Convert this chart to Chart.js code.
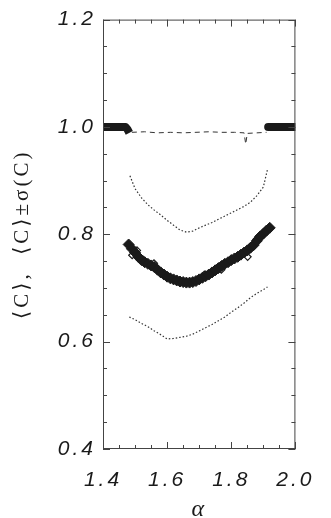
<!DOCTYPE html>
<html>
<head>
<meta charset="utf-8">
<script src="https://cdn.jsdelivr.net/npm/chart.js@4"></script>
<style>
  html, body { margin: 0; padding: 0; background: #fff; }
  #wrap { width: 331px; height: 518px; position: relative; }
</style>
</head>
<body>
<div id="wrap"><canvas id="chart"></canvas></div>
<script>
// mean <C> (diamonds) on the dip
const aMean = [1.48, 1.49, 1.50, 1.51, 1.52, 1.53, 1.54, 1.55, 1.56, 1.57, 1.58, 1.59, 1.60, 1.61, 1.62,
  1.63, 1.64, 1.65, 1.66, 1.67, 1.68, 1.69, 1.70, 1.71, 1.72, 1.73, 1.74, 1.75, 1.76, 1.77,
  1.78, 1.79, 1.80, 1.81, 1.82, 1.83, 1.84, 1.85, 1.86, 1.87, 1.88, 1.89, 1.90, 1.91, 1.92];
const cMean = [0.781, 0.773, 0.766, 0.758, 0.752, 0.748, 0.745, 0.742, 0.739, 0.734, 0.729, 0.725, 0.721, 0.718, 0.716,
  0.714, 0.712, 0.711, 0.710, 0.710, 0.711, 0.713, 0.716, 0.719, 0.722, 0.725, 0.729, 0.733, 0.737, 0.741,
  0.745, 0.748, 0.752, 0.755, 0.758, 0.762, 0.766, 0.770, 0.775, 0.780, 0.788, 0.796, 0.801, 0.807, 0.812];

// open diamonds sticking out of the dense band
const aOpen = [1.482, 1.491, 1.506, 1.525, 1.559, 1.716, 1.769, 1.851, 1.870, 1.879, 1.913];
const cOpen = [0.779, 0.761, 0.770, 0.753, 0.746, 0.725, 0.734, 0.758, 0.782, 0.791, 0.810];

// <C> = 1 outside the dip
const aBandL = [1.40, 1.42, 1.44, 1.46, 1.47, 1.476, 1.482];
const cBandL = [1.0, 1.0, 1.0, 1.0, 1.0, 0.996, 0.989];
const aBandR = [1.915, 1.94, 1.96, 1.98, 2.0];
const cBandR = [1.0, 1.0, 1.0, 1.0, 1.0];

// dashed line just under 1
const aDash = [1.49, 1.53, 1.57, 1.61, 1.65, 1.69, 1.73, 1.77, 1.81, 1.84, 1.845, 1.85, 1.88, 1.91];
const cDash = [0.990, 0.991, 0.989, 0.990, 0.989, 0.990, 0.991, 0.990, 0.990, 0.989, 0.968, 0.988, 0.989, 0.990];

// <C> + sigma and <C> - sigma
const aUpper = [1.484, 1.50, 1.52, 1.54, 1.56, 1.58, 1.60, 1.62, 1.64, 1.66, 1.68, 1.70, 1.72, 1.74,
  1.76, 1.78, 1.80, 1.82, 1.84, 1.86, 1.88, 1.90, 1.913];
const cUpper = [0.909, 0.885, 0.868, 0.855, 0.845, 0.836, 0.826, 0.817, 0.808, 0.804, 0.806, 0.812, 0.817, 0.822,
  0.828, 0.834, 0.840, 0.846, 0.852, 0.860, 0.872, 0.888, 0.921];
const aLower = [1.482, 1.50, 1.52, 1.54, 1.56, 1.58, 1.60, 1.62, 1.64, 1.66, 1.68, 1.70, 1.72, 1.74,
  1.76, 1.78, 1.80, 1.82, 1.84, 1.86, 1.88, 1.90, 1.913];
const cLower = [0.646, 0.641, 0.634, 0.628, 0.620, 0.613, 0.605, 0.606, 0.608, 0.610, 0.614, 0.620, 0.626, 0.632,
  0.639, 0.646, 0.655, 0.663, 0.672, 0.682, 0.690, 0.697, 0.702];

const xTicks = [1.4, 1.6, 1.8, 2.0];
const yTicks = [0.4, 0.6, 0.8, 1.0, 1.2];

function pts(xs, ys) {
  return xs.map((x, i) => ({ x: x, y: ys[i] }));
}

const ink = "#1a1a1a";

// inward major/minor ticks on all four sides plus the frame
const frameTicks = {
  id: "frameTicks",
  beforeDraw(chart) {
    chart.ctx.letterSpacing = "3px";
  },
  afterDraw(chart) {
    const { ctx, chartArea: ca, scales } = chart;
    const xs = scales.x, ys = scales.y;
    ctx.save();
    ctx.letterSpacing = "0px";
    ctx.strokeStyle = "#444";
    ctx.lineWidth = 1;
    ctx.strokeRect(ca.left + 0.5, ca.top + 0.5, ca.right - ca.left - 1, ca.bottom - ca.top - 1);
    ctx.beginPath();
    for (let v = 1.4; v <= 2.0001; v += 0.05) {
      const major = Math.abs(v * 10 - Math.round(v * 10)) < 1e-6 && Math.round(v * 10) % 2 === 0;
      const len = major ? 7 : 4;
      const px = Math.round(xs.getPixelForValue(v)) + 0.5;
      ctx.moveTo(px, ca.bottom); ctx.lineTo(px, ca.bottom - len);
      ctx.moveTo(px, ca.top); ctx.lineTo(px, ca.top + len);
    }
    for (let v = 0.4; v <= 1.2001; v += 0.05) {
      const major = Math.abs(v * 10 - Math.round(v * 10)) < 1e-6 && Math.round(v * 10) % 2 === 0;
      const len = major ? 7 : 4;
      const py = Math.round(ys.getPixelForValue(v)) + 0.5;
      ctx.moveTo(ca.left, py); ctx.lineTo(ca.left + len, py);
      ctx.moveTo(ca.right, py); ctx.lineTo(ca.right - len, py);
    }
    ctx.stroke();
    ctx.restore();
  },
};

new Chart(document.getElementById("chart"), {
  type: "scatter",
  data: {
    datasets: [
      {
        label: "upper",
        data: pts(aUpper, cUpper),
        showLine: true,
        borderColor: "#333",
        borderWidth: 1.2,
        borderDash: [1.5, 2],
        pointRadius: 0,
      },
      {
        label: "lower",
        data: pts(aLower, cLower),
        showLine: true,
        borderColor: "#333",
        borderWidth: 1.2,
        borderDash: [1.5, 2],
        pointRadius: 0,
      },
      {
        label: "dash",
        data: pts(aDash, cDash),
        showLine: true,
        borderColor: "#333",
        borderWidth: 1,
        borderDash: [5, 4],
        pointRadius: 0,
      },
      {
        label: "bandL",
        data: pts(aBandL, cBandL),
        showLine: true,
        borderColor: ink,
        borderWidth: 8,
        borderJoinStyle: "round",
        pointRadius: 0,
      },
      {
        label: "bandR",
        data: pts(aBandR, cBandR),
        showLine: true,
        borderColor: ink,
        borderWidth: 8,
        borderCapStyle: "round",
        pointRadius: 0,
      },
      {
        label: "mean",
        data: pts(aMean, cMean),
        pointStyle: "rectRot",
        pointRadius: 5.5,
        backgroundColor: ink,
        borderColor: ink,
        borderWidth: 1,
      },
      {
        label: "open",
        data: pts(aOpen, cOpen),
        pointStyle: "rectRot",
        pointRadius: 3.5,
        backgroundColor: "#fff",
        borderColor: ink,
        borderWidth: 1.2,
      },
    ],
  },
  options: {
    responsive: true,
    maintainAspectRatio: false,
    animation: false,
    events: [],
    layout: { padding: { left: 0, right: 19, top: 8, bottom: 0 } },
    plugins: {
      legend: { display: false },
      tooltip: { enabled: false },
    },
    scales: {
      x: {
        type: "linear",
        min: 1.4,
        max: 2.0,
        afterFit: (s) => { s.height = 69; },
        afterBuildTicks: (s) => { s.ticks = xTicks.map((v) => ({ value: v })); },
        grid: { display: false, drawTicks: false },
        border: { display: false },
        ticks: {
          padding: 21,
          color: ink,
          font: { family: '"Liberation Sans", Arial, sans-serif', size: 21, style: "italic", lineHeight: 1 },
          callback: (v) => v.toFixed(1),
        },
        title: {
          display: true,
          text: "α",
          color: ink,
          padding: 0,
          font: { family: '"Liberation Serif", "DejaVu Serif", serif', size: 24, style: "italic", lineHeight: 0.7 },
        },
      },
      y: {
        type: "linear",
        min: 0.4,
        max: 1.2,
        afterFit: (s) => { s.width = 103; },
        afterBuildTicks: (s) => { s.ticks = yTicks.map((v) => ({ value: v })); },
        grid: { display: false, drawTicks: false },
        border: { display: false },
        ticks: {
          padding: 7,
          color: ink,
          font: { family: '"Liberation Sans", Arial, sans-serif', size: 21, style: "italic" },
          callback: (v) => v.toFixed(1),
        },
        title: {
          display: true,
          text: "\u27E8C\u27E9,  \u27E8C\u27E9\u00B1\u03C3(C)",
          color: ink,
          padding: { top: 12, bottom: 0 },
          font: { family: '"Liberation Serif", "DejaVu Serif", serif', size: 21, lineHeight: 1 },
        },
      },
    },
  },
  plugins: [frameTicks],
});
</script>
</body>
</html>
